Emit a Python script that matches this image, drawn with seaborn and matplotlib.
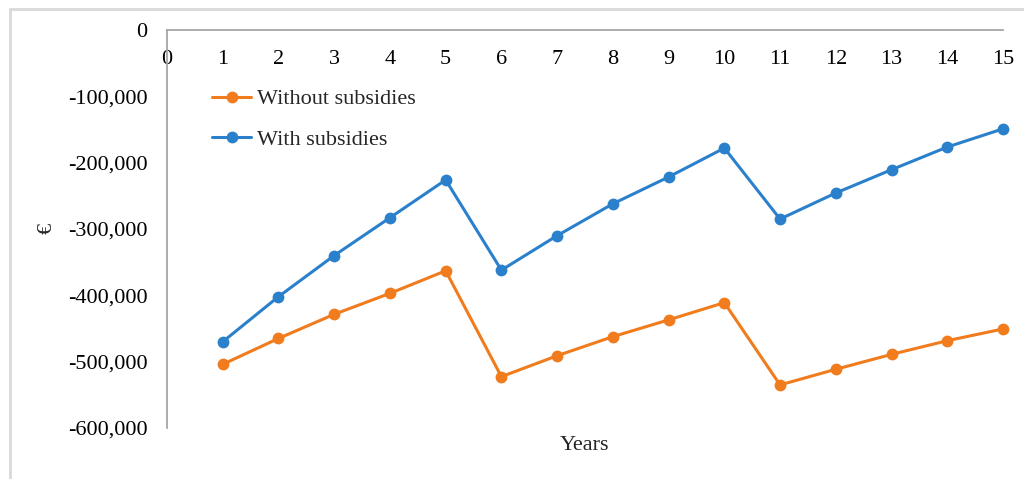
import matplotlib
matplotlib.use("Agg")
import matplotlib.pyplot as plt
from matplotlib.lines import Line2D
import seaborn as sns
import pandas as pd

years = list(range(1, 16))
without_subsidies = [-504000, -465000, -428600, -397000, -363000,
                     -522600, -491000, -462300, -437000, -411000,
                     -535000, -511500, -489000, -468400, -450700]
with_subsidies = [-470000, -402000, -340000, -283000, -226000,
                  -362000, -310000, -262000, -221600, -178000,
                  -285000, -245700, -210600, -176400, -149000]
series_names = ["Without subsidies", "With subsidies"]
x_ticks = list(range(0, 16))
y_ticks = [0, -100000, -200000, -300000, -400000, -500000, -600000]

df = pd.DataFrame({
    "Years": years * 2,
    "value": without_subsidies + with_subsidies,
    "series": [series_names[0]] * len(years) + [series_names[1]] * len(years),
})

sns.set_theme(style="white")
plt.rcParams["font.family"] = ["Liberation Serif", "DejaVu Serif"]

W, H = 1024, 479
FS = 16
fig = plt.figure(figsize=(W / 100, H / 100), dpi=100)
ax = fig.add_axes([167 / W, 1 - 428 / H, (1003 - 167) / W, (428 - 30) / H])

palette = {series_names[0]: "#F07C1E", series_names[1]: "#2B80CC"}
sns.lineplot(data=df, x="Years", y="value", hue="series", palette=palette,
             marker="o", markersize=8.5, markeredgewidth=0, linewidth=2.2,
             ax=ax, legend=False)
for ln in ax.lines:
    ln.set_clip_on(False)

ax.set_xlim(0, 15)
ax.set_ylim(-600000, 0)
ax.set_xticks(x_ticks)
ax.set_xticklabels([str(t) for t in x_ticks])
ax.set_yticks(y_ticks)
ax.set_yticklabels(["0" if v == 0 else f"{v:,}" for v in y_ticks])

ax.xaxis.tick_top()
ax.tick_params(axis="x", top=False, bottom=False, labeltop=True, labelbottom=False,
               pad=-34, labelsize=FS, colors="#000000")
ax.tick_params(axis="y", left=False, pad=8, labelsize=FS, colors="#000000")

for side in ["right", "bottom"]:
    ax.spines[side].set_visible(False)
for side in ["top", "left"]:
    ax.spines[side].set_color("#A6A6A6")
    ax.spines[side].set_linewidth(1.3)
ax.grid(False)

ax.set_xlabel("")
ax.set_ylabel("")
fig.text(585 / W, 1 - 445 / H, "Years", ha="center", va="center", fontsize=FS)
fig.text(47 / W, 1 - 228 / H, "€", ha="center", va="center", fontsize=FS, rotation=90)

handles = [Line2D([0], [0], color=palette[n], marker="o", markersize=8.5,
                  markeredgewidth=0, linewidth=2.2) for n in series_names]
ax.legend(handles, series_names, loc="upper left", bbox_to_anchor=(0.054, 0.852),
          frameon=False, fontsize=FS, handlelength=1.75, handletextpad=0.25,
          labelspacing=0.9, borderaxespad=0, borderpad=0)

# light frame around the chart area
fig.add_artist(Line2D([10 / W, 1.0], [1 - 9 / H, 1 - 9 / H], color="#D9D9D9",
                      linewidth=2, transform=fig.transFigure))
fig.add_artist(Line2D([10 / W, 10 / W], [0, 1 - 9 / H], color="#D9D9D9",
                      linewidth=2, transform=fig.transFigure))

fig.savefig("out.png", dpi=100, facecolor="white")
